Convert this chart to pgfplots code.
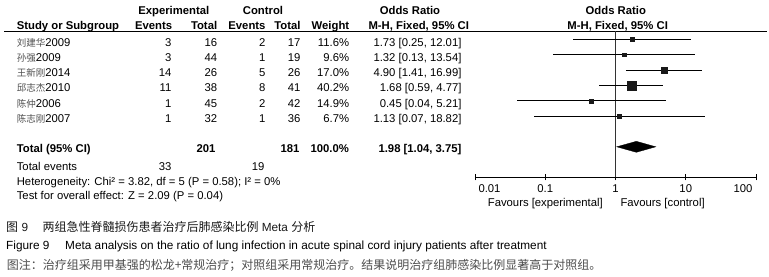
\documentclass[border=0pt]{standalone}
\usepackage{pgfplots}
\pgfplotsset{compat=1.18}
\usepackage{fontspec}
\setmainfont{Liberation Sans}
\newfontfamily\cjk{Noto Sans CJK SC}
\newcommand{\tf}{\fontsize{11.3}{13}\selectfont}
\newcommand{\nm}[1]{{\cjk\fontsize{9.5}{11}\selectfont\color{black!70}#1}}
\newcommand{\studyrow}[8]{%
  \node[anchor=base west, font=\tf] at (axis cs:13.3,-#1) {\nm{#2}#3};
  \node[anchor=base east, font=\tf] at (axis cs:175,-#1) {#4};
  \node[anchor=base east, font=\tf] at (axis cs:220.7,-#1) {#5};
  \node[anchor=base east, font=\tf] at (axis cs:269,-#1) {#6};
  \node[anchor=base east, font=\tf] at (axis cs:304,-#1) {#7};
  \node[anchor=base east, font=\tf] at (axis cs:352.7,-#1) {#8};
}
\newcommand{\orrow}[2]{\node[anchor=base east, font=\tf] at (axis cs:465,-#1) {#2};}
\begin{document}
\begin{tikzpicture}
\useasboundingbox (0,0) rectangle (769pt,276pt);
% ---------- text / table layer ----------
\begin{axis}[at={(0pt,0pt)}, anchor=south west, scale only axis,
  width=769pt, height=276pt, xmin=0, xmax=769, ymin=-276, ymax=0,
  hide axis, clip=false,
  every node/.style={inner sep=0pt, text=black!88}]
\addplot[black, line width=0.9pt] coordinates {(4,-31.3) (767,-31.3)};
% headers
\node[anchor=base, font=\tf\bfseries] at (axis cs:173.8,-15) {Experimental};
\node[anchor=base, font=\tf\bfseries] at (axis cs:263,-15) {Control};
\node[anchor=base, font=\tf\bfseries] at (axis cs:410,-15) {Odds Ratio};
\node[anchor=base, font=\tf\bfseries] at (axis cs:615.8,-15) {Odds Ratio};
\node[anchor=base west, font=\tf\bfseries] at (axis cs:13.3,-29.5) {Study or Subgroup};
\node[anchor=base east, font=\tf\bfseries] at (axis cs:175.7,-29.5) {Events};
\node[anchor=base east, font=\tf\bfseries] at (axis cs:220.7,-29.5) {Total};
\node[anchor=base east, font=\tf\bfseries] at (axis cs:269,-29.5) {Events};
\node[anchor=base east, font=\tf\bfseries] at (axis cs:304,-29.5) {Total};
\node[anchor=base east, font=\tf\bfseries] at (axis cs:352.7,-29.5) {Weight};
\node[anchor=base, font=\tf\bfseries] at (axis cs:418.8,-29.5) {M-H, Fixed, 95\% CI};
\node[anchor=base, font=\tf\bfseries] at (axis cs:617.7,-29.5) {M-H, Fixed, 95\% CI};
% study rows
\studyrow{46.5}{刘建华}{2009}{3}{16}{2}{17}{11.6\%}
\orrow{46.5}{1.73 [0.25, 12.01]}
\studyrow{61.7}{孙强}{2009}{3}{44}{1}{19}{9.6\%}
\orrow{61.7}{1.32 [0.13, 13.54]}
\studyrow{76.8}{王新刚}{2014}{14}{26}{5}{26}{17.0\%}
\orrow{76.8}{4.90 [1.41, 16.99]}
\studyrow{92.0}{邱志杰}{2010}{11}{38}{8}{41}{40.2\%}
\orrow{92.0}{1.68 [0.59, 4.77]}
\studyrow{107.1}{陈仲}{2006}{1}{45}{2}{42}{14.9\%}
\orrow{107.1}{0.45 [0.04, 5.21]}
\studyrow{122.3}{陈志刚}{2007}{1}{32}{1}{36}{6.7\%}
\orrow{122.3}{1.13 [0.07, 18.82]}
% total
\node[anchor=base west, font=\tf\bfseries] at (axis cs:13.3,-153) {Total (95\% CI)};
\node[anchor=base east, font=\tf\bfseries] at (axis cs:219,-153) {201};
\node[anchor=base east, font=\tf\bfseries] at (axis cs:303,-153) {181};
\node[anchor=base east, font=\tf\bfseries] at (axis cs:352.5,-153) {100.0\%};
\node[anchor=base east, font=\tf\bfseries] at (axis cs:465,-153) {1.98 [1.04, 3.75]};
\node[anchor=base west, font=\tf] at (axis cs:13.3,-171) {Total events};
\node[anchor=base east, font=\tf] at (axis cs:175,-171) {33};
\node[anchor=base east, font=\tf] at (axis cs:268,-171) {19};
\node[anchor=base west, font=\tf] at (axis cs:13.3,-185.5) {Heterogeneity: Chi² = 3.82, df = 5 (P = 0.58); I² = 0\%};
\node[anchor=base west, font=\tf] at (axis cs:13.3,-199.5) {Test for overall effect: Z = 2.09 (P = 0.04)};
% caption
\node[anchor=base west, text=black!90] at (axis cs:2.7,-232) {{\cjk\fontsize{12}{14}\selectfont 图}\fontsize{11.8}{14}\selectfont\ 9};
\node[anchor=base west, text=black!90] at (axis cs:39,-232) {{\cjk\fontsize{12}{14}\selectfont 两组急性脊髓损伤患者治疗后肺感染比例}\fontsize{11.8}{14}\selectfont\ Meta {\cjk\fontsize{12}{14}\selectfont 分析}};
\node[anchor=base west, font=\fontsize{11.8}{14}\selectfont, text=black] at (axis cs:2.7,-249.5) {Figure 9};
\node[anchor=base west, font=\fontsize{11.8}{14}\selectfont, text=black] at (axis cs:61.7,-249.5) {Meta analysis on the ratio of lung infection in acute spinal cord injury patients after treatment};
\node[anchor=base west, font=\cjk\fontsize{12}{14}\selectfont, text=black!70] at (axis cs:3.3,-270) {图注：治疗组采用甲基强的松龙+常规治疗；对照组采用常规治疗。结果说明治疗组肺感染比例显著高于对照组。};
\end{axis}
% ---------- forest plot ----------
\begin{axis}[at={(475pt,99pt)}, anchor=south west, scale only axis,
  width=281pt, height=145.7pt, xmode=log, xmin=0.01, xmax=100,
  ymin=-177, ymax=-31.3,
  axis x line*=bottom, axis y line=none,
  axis line style={-, line width=0.9pt, black},
  xtick={0.01,0.1,1,10,100}, xticklabels={}, xminorticks=false,
  tick align=center, major tick length=6.6pt,
  tick style={line width=0.9pt, black},
  clip=false,
  every node/.style={inner sep=0pt, text=black!88}]
\addplot[black!80, line width=0.8pt] coordinates {(1,-31.3) (1,-177)};
% CIs
\addplot[black, line width=0.9pt] coordinates {(0.25,-39.5) (12.01,-39.5)};
\addplot[black, line width=0.9pt] coordinates {(0.13,-54.85) (13.54,-54.85)};
\addplot[black, line width=0.9pt] coordinates {(1.41,-70.2) (16.99,-70.2)};
\addplot[black, line width=0.9pt] coordinates {(0.59,-85.55) (4.77,-85.55)};
\addplot[black, line width=0.9pt] coordinates {(0.04,-100.9) (5.21,-100.9)};
\addplot[black, line width=0.9pt] coordinates {(0.07,-116.25) (18.82,-116.25)};
% squares
\addplot[only marks, mark=square*, mark size=1.95pt, black!90, mark options={line width=0.3pt}] coordinates {(1.73,-39.5)};
\addplot[only marks, mark=square*, mark size=1.7pt, black!90, mark options={line width=0.3pt}] coordinates {(1.32,-54.85)};
\addplot[only marks, mark=square*, mark size=2.7pt, black!90, mark options={line width=0.3pt}] coordinates {(4.90,-70.2)};
\addplot[only marks, mark=square*, mark size=4.35pt, black!90, mark options={line width=0.3pt}] coordinates {(1.68,-85.55)};
\addplot[only marks, mark=square*, mark size=2.0pt, black!90, mark options={line width=0.3pt}] coordinates {(0.45,-100.9)};
\addplot[only marks, mark=square*, mark size=1.7pt, black!90, mark options={line width=0.3pt}] coordinates {(1.13,-116.25)};
% diamond
\addplot[fill=black, draw=black, line width=0.3pt] coordinates {(1.04,-146.8) (1.98,-141.3) (3.75,-146.8) (1.98,-152.3)} -- cycle;
% tick labels
\node[anchor=base west, font=\tf] at (axis cs:0.01,-193) {0.01};
\node[anchor=base, font=\tf] at (axis cs:0.1,-193) {0.1};
\node[anchor=base, font=\tf] at (axis cs:1,-193) {1};
\node[anchor=base, font=\tf] at (axis cs:10,-193) {10};
\node[anchor=base east, font=\tf] at (axis cs:100,-193) {100};
\node[anchor=base east, font=\tf] at (axis cs:0.74,-206.5) {Favours [experimental]};
\node[anchor=base west, font=\tf] at (axis cs:1.05,-206.5) {Favours [control]};
\end{axis}
\end{tikzpicture}
\end{document}
